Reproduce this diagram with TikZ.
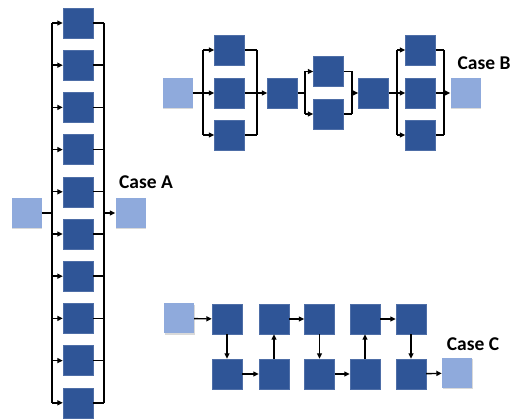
\documentclass[tikz,border=0pt]{standalone}
\usepackage{fontspec}
\setmainfont{Carlito}
\usetikzlibrary{arrows.meta,shadows}
\definecolor{blockblue}{HTML}{2F5597}
\definecolor{portblue}{HTML}{8FAADC}
\newcommand{\caselabel}{\bfseries\fontsize{19.5}{21}\selectfont}
\tikzset{
  block/.style={fill=blockblue,draw=blockblue!85!white,line width=0.4pt,minimum size=30pt,inner sep=0pt},
  port/.style={fill=portblue,minimum size=30pt,inner sep=0pt,
               drop shadow={shadow xshift=0.6pt,shadow yshift=-1.2pt,opacity=0.3}},
  wire/.style={line width=1.4pt},
  flow/.style={wire,-{Triangle[length=5.5pt,width=5pt]}}
}

\begin{document}
\begin{tikzpicture}[x=1pt,y=-1pt] % pixel grid, y downwards
   \useasboundingbox (0,0) rectangle (511,419);
   % Case A: ten blocks in parallel
   \node[port] (inA)  at (26.5,213) {};
   \node[port] (outA) at (130.5,213) {};
   \foreach \i in {0,...,9}
      \node[block] (a\i) at (78,23+42.2*\i) {};
   \coordinate (aL) at (52,213);
   \coordinate (aR) at (104,213);
   \draw[wire] (inA.east) -- (aL);
   \draw[wire] (aL |- a0) -- (aL |- a9);
   \draw[wire] (aR |- a0) -- (aR |- a9);
   \foreach \i in {0,...,9} {
      \draw[flow] (aL |- a\i) -- (a\i.west);
      \draw[wire] (a\i.east) -- (aR |- a\i);
   }
   \draw[flow] (aR) -- (outA.west);
   \node[anchor=center] (caseA) at (146,182) {\caselabel Case A};

   % Case B: 3 -- 1 -- 2 -- 1 -- 3
   \node[port]  (inB)  at (177.5,93) {};
   \node[block] (b1)   at (229.5,50) {};
   \node[block] (b2)   at (229.5,93) {};
   \node[block] (b3)   at (229.5,135) {};
   \node[block] (bm1)  at (282.5,93) {};
   \node[block] (b4)   at (328.5,71.5) {};
   \node[block] (b5)   at (328.5,114) {};
   \node[block] (bm2)  at (373.5,93) {};
   \node[block] (b6)   at (420.5,50) {};
   \node[block] (b7)   at (420.5,93) {};
   \node[block] (b8)   at (420.5,135) {};
   \node[port]  (outB) at (465.5,93) {};
   \coordinate (p1) at (203,93);
   \coordinate (p2) at (257,93);
   \coordinate (p3) at (305,93);
   \coordinate (p4) at (352,93);
   \coordinate (p5) at (397,93);
   \coordinate (p6) at (444,93);
   \draw[wire] (inB.east) -- (p1);
   \draw[wire] (p1 |- b1) -- (p1 |- b3);
   \draw[wire] (p2 |- b1) -- (p2 |- b3);
   \foreach \n in {b1,b2,b3} {
      \draw[flow] (p1 |- \n) -- (\n.west);
      \draw[wire] (\n.east) -- (p2 |- \n);
   }
   \draw[flow] (p2) -- (bm1.west);
   \draw[wire] (bm1.east) -- (p3);
   \draw[wire] (p3 |- b4) -- (p3 |- b5);
   \draw[wire] (p4 |- b4) -- (p4 |- b5);
   \foreach \n in {b4,b5} {
      \draw[flow] (p3 |- \n) -- (\n.west);
      \draw[wire] (\n.east) -- (p4 |- \n);
   }
   \draw[flow] (p4) -- (bm2.west);
   \draw[wire] (bm2.east) -- (p5);
   \draw[wire] (p5 |- b6) -- (p5 |- b8);
   \draw[wire] (p6 |- b6) -- (p6 |- b8);
   \foreach \n in {b6,b7,b8} {
      \draw[flow] (p5 |- \n) -- (\n.west);
      \draw[wire] (\n.east) -- (p6 |- \n);
   }
   \draw[flow] (p6) -- (outB.west);
   \node[anchor=center] (caseB) at (484,63) {\caselabel Case B};

   % Case C: ten blocks in series, zig-zag
   \node[port]  (inC)  at (179,318.5) {};
   \foreach \x [count=\k] in {227,274,319.5,365,411} {
      \node[block] (t\k) at (\x,319) {};
      \node[block] (d\k) at (\x,374) {};
   }
   \node[port]  (outC) at (457,373) {};
   \draw[flow] (inC)  -- (t1);
   \draw[flow] (t1) -- (d1);
   \draw[flow] (d1) -- (d2);
   \draw[flow] (d2) -- (t2);
   \draw[flow] (t2) -- (t3);
   \draw[flow] (t3) -- (d3);
   \draw[flow] (d3) -- (d4);
   \draw[flow] (d4) -- (t4);
   \draw[flow] (t4) -- (t5);
   \draw[flow] (t5) -- (d5);
   \draw[flow] (d5) -- (outC);
   \node[anchor=center] (caseC) at (473,344) {\caselabel Case C};
\end{tikzpicture}
\end{document}
